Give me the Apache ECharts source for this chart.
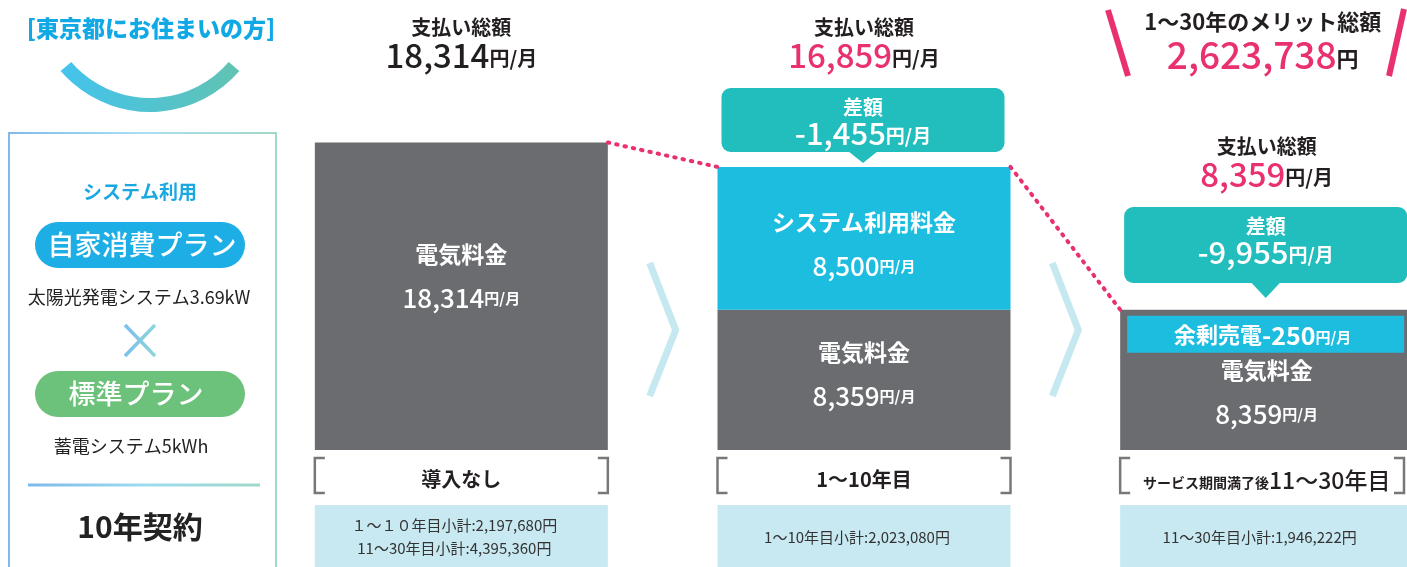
<!DOCTYPE html>
<html><head><meta charset="utf-8">
<script src="https://cdn.jsdelivr.net/npm/echarts@6/dist/echarts.min.js"></script>
<style>html,body{margin:0;padding:0;background:#fff}#c{width:1407px;height:567px}</style>
</head><body><div id="c"></div>
<script>
// ---------- data ----------
const categories = ['導入なし', '1〜10年目', 'サービス期間満了後11〜30年目'];
const electricityFee = [18314, 8359, 8359];
const systemFee = [0, 8500, 0];
const totalPayment = [18314, 16859, 8359];
const monthlyDiff = [null, -1455, -9955];
const surplusSale = [null, null, -250];
const subtotalLines = [
  ['１～１０年目小計:2,197,680円', '11〜30年目小計:4,395,360円'],
  ['1〜10年目小計:2,023,080円'],
  ['11〜30年目小計:1,946,222円']
];
const meritLabel = '1〜30年のメリット総額';
const meritTotal = 2623738;
const panelTitle = '[東京都にお住まいの方]';
const panelLines = ['システム利用', '自家消費プラン', '太陽光発電システム3.69kW', '標準プラン', '蓄電システム5kWh', '10年契約'];

// ---------- style ----------
const FONT = '"Noto Sans CJK JP","Noto Sans",sans-serif';
const GRAY = '#6b6c70', CYAN = '#1dbde0', TEAL = '#22bdbd', PINK = '#e8316e', DARK = '#231f20';
const BAR_W = 293;
const fmt = v => Math.abs(v).toLocaleString('en-US');
const sgn = v => (v < 0 ? '-' : '');

const chart = echarts.init(document.getElementById('c'));

const elecOffsets = [-20, -6, 12];
const sysOffsets = [0, 6, 0];
const richBar = {
  n: { fontSize: 23, fontWeight: 'bold', color: '#fff', lineHeight: 44, fontFamily: FONT },
  v: { fontSize: 26, fontWeight: 500, color: '#fff', lineHeight: 44, fontFamily: FONT },
  u: { fontSize: 15, fontWeight: 'bold', color: '#fff', lineHeight: 44, fontFamily: FONT }
};

chart.setOption({
  animation: false,
  grid: { left: 260, right: -61, top: 47, bottom: 117, containLabel: false, outerBoundsMode: 'none' },
  xAxis: {
    type: 'category', data: categories,
    axisLine: { show: false }, axisTick: { show: false },
    axisLabel: {
      interval: 0, margin: 19, color: DARK, fontFamily: FONT,
      formatter: v => {
        const m = v.match(/^(サービス期間満了後)(.*)$/);
        return m ? '{s|' + m[1] + '}{b|' + m[2] + '}' : '{m|' + v + '}';
      },
      rich: {
        m: { fontSize: 20, fontWeight: 'bold', color: DARK, fontFamily: FONT },
        s: { fontSize: 14, fontWeight: 'bold', color: DARK, fontFamily: FONT, padding: [4, 0, 0, 0] },
        b: { fontSize: 23, fontWeight: 500, color: DARK, fontFamily: FONT }
      }
    }
  },
  yAxis: { type: 'value', min: 0, max: 24000, show: false, splitLine: { show: false } },
  series: [
    {
      name: '電気料金', type: 'bar', stack: 'pay', barWidth: BAR_W,
      itemStyle: { color: GRAY },
      data: electricityFee.map((v, i) => ({ value: v, label: { offset: [0, elecOffsets[i]] } })),
      label: {
        show: true, position: 'inside',
        formatter: p => '{n|電気料金}\n{v|' + fmt(p.value) + '}{u|円/月}', rich: richBar
      }
    },
    {
      name: 'システム利用料金', type: 'bar', stack: 'pay', barWidth: BAR_W,
      itemStyle: { color: CYAN },
      data: systemFee.map((v, i) => ({ value: v, label: { offset: [0, sysOffsets[i]] } })),
      label: {
        show: true, position: 'inside',
        formatter: p => p.value > 0 ? '{n|システム利用料金}\n{v|' + fmt(p.value) + '}{u|円/月}' : '', rich: richBar
      }
    },
    {
      name: 'connector', type: 'custom', z: 5,
      data: totalPayment.map((v, i) => [i, v]),
      renderItem: (params, api) => {
        const i = params.dataIndex;
        if (i >= totalPayment.length - 1) return null;
        const p0 = api.coord([i, totalPayment[i]]);
        const p1 = api.coord([i + 1, totalPayment[i + 1]]);
        return {
          type: 'line',
          shape: { x1: p0[0] + BAR_W / 2, y1: p0[1], x2: p1[0] - BAR_W / 2, y2: p1[1] },
          style: { stroke: PINK, lineWidth: 4, lineDash: [1.5, 7], lineCap: 'round', fill: null }
        };
      }
    },
    {
      name: '余剰売電', type: 'custom', z: 5,
      data: surplusSale.map((v, i) => [i, electricityFee[i], v]).filter(d => d[2] != null),
      renderItem: (params, api) => {
        const i = api.value(0);
        const p = api.coord([i, api.value(1)]);
        const left = p[0] - BAR_W / 2 + 7, top = p[1] + 6, h = 37;
        const v = api.value(2);
        return {
          type: 'group',
          children: [
            { type: 'rect', shape: { x: left, y: top, width: BAR_W - 16, height: h }, style: { fill: CYAN } },
            { type: 'text', style: {
              x: p[0] - 4, y: top + h / 2 + 1, align: 'center', verticalAlign: 'middle',
              text: '{a|余剰売電}{b|' + sgn(v) + fmt(v) + '}{u|円/月}',
              rich: {
                a: { fontSize: 22, fontWeight: 'bold', fill: '#fff', fontFamily: FONT },
                b: { fontSize: 25, fontWeight: 'bold', fill: '#fff', fontFamily: FONT },
                u: { fontSize: 15, fontWeight: 'bold', fill: '#fff', fontFamily: FONT, padding: [5, 0, 0, 0] }
              }
            } }
          ]
        };
      }
    }
  ]
});

// ---------- annotations ----------
function txt(x, y, text, o) {
  return { type: 'text', z: 100, style: Object.assign({
    x: x, y: y, text: text, align: 'center', verticalAlign: 'middle',
    textAlign: 'center', textVerticalAlign: 'middle', fontFamily: FONT, fill: DARK
  }, o || {}) };
}
const px = (i, v) => chart.convertToPixel({ xAxisIndex: 0, yAxisIndex: 0 }, [i, v]);

const g = [];
// left panel
const grad = (c) => ({ type: 'linear', x: 0, y: 0, x2: 1, y2: 0, colorStops: c });
g.push(txt(151, 28, panelTitle, { fontSize: 23, fontWeight: 900, fill: '#10a9e6' }));
g.push({ type: 'arc', z: 100, shape: { cx: 150, cy: -6, r: 111, startAngle: 0.712, endAngle: 2.43, clockwise: true },
  style: { fill: null, lineWidth: 14, stroke: grad([{ offset: 0, color: '#43c3ee' }, { offset: 1, color: '#61c3b2' }]) } });
g.push({ type: 'rect', z: 100, shape: { x: 9, y: 133, width: 267, height: 460 },
  style: { fill: null, lineWidth: 2, stroke: grad([{ offset: 0, color: '#80b9e8' }, { offset: 0.5, color: '#a9dff2' }, { offset: 1, color: '#a0d9c8' }]) } });
g.push(txt(140, 192, panelLines[0], { fontSize: 19, fontWeight: 'bold', fill: '#1aa8e0' }));
g.push({ type: 'rect', z: 100, shape: { x: 35, y: 222, width: 210, height: 46, r: 23 }, style: { fill: '#1eaee6' } });
g.push(txt(142, 245, panelLines[1], { fontSize: 27, fontWeight: 500, fill: '#fff' }));
g.push(txt(139, 297, panelLines[2], { fontSize: 18, fill: '#222' }));
const xg = grad([{ offset: 0, color: '#79bdee' }, { offset: 1, color: '#8fd8d8' }]);
g.push({ type: 'line', z: 100, shape: { x1: 125, y1: 325, x2: 155, y2: 356 }, style: { stroke: xg, lineWidth: 3.5 } });
g.push({ type: 'line', z: 100, shape: { x1: 155, y1: 325, x2: 125, y2: 356 }, style: { stroke: xg, lineWidth: 3.5 } });
g.push({ type: 'rect', z: 100, shape: { x: 35, y: 371, width: 210, height: 46, r: 23 }, style: { fill: '#6cc27a' } });
g.push(txt(136, 394, panelLines[3], { fontSize: 27, fontWeight: 500, fill: '#fff' }));
g.push(txt(131, 446, panelLines[4], { fontSize: 18, fill: '#222' }));
g.push({ type: 'line', z: 100, shape: { x1: 28, y1: 485, x2: 260, y2: 485 },
  style: { lineWidth: 3, stroke: grad([{ offset: 0, color: '#7cb8e8' }, { offset: 0.5, color: '#9ddcf0' }, { offset: 1, color: '#9fd8c8' }]) } });
g.push(txt(140, 527, panelLines[5], { fontSize: 30, fontWeight: 'bold', fill: '#222' }));

// per category
const calloutTop = [null, 88, 207], calloutH = [null, 64, 76];
const headY = [27, 27, 146];
for (let i = 0; i < categories.length; i++) {
  const c = px(i, 0);
  const cx = c[0];
  const left = cx - BAR_W / 2, right = cx + BAR_W / 2;
  const topY = px(i, totalPayment[i])[1];
  // headline
  const hy = headY[i];
  g.push(txt(cx, hy, '支払い総額', { fontSize: 20, fontWeight: 'bold' }));
  g.push(txt(cx, hy + 28, '{v|' + fmt(totalPayment[i]) + '}{u|円/月}', {
    rich: {
      v: { fontSize: 33, fontWeight: 500, fill: i === 0 ? DARK : PINK, fontFamily: FONT },
      u: { fontSize: 20, fontWeight: 'bold', fill: DARK, fontFamily: FONT, padding: [6, 0, 0, 0] }
    }
  }));
  // callout
  if (monthlyDiff[i] != null) {
    const bt = calloutTop[i], bh = calloutH[i];
    const bl = left + 4, br = Math.min(right - 6, 1420);
    const tipY = Math.min(bt + bh + 15, topY - 4);
    const tipX = (bl + br) / 2;
    g.push({ type: 'rect', z: 90, shape: { x: bl, y: bt, width: br - bl, height: bh, r: 9 }, style: { fill: TEAL } });
    g.push({ type: 'polygon', z: 90, shape: { points: [[tipX - 15, bt + bh - 1], [tipX + 15, bt + bh - 1], [tipX, tipY]] }, style: { fill: TEAL } });
    g.push(txt(tipX, bt + 19, '差額', { fontSize: 20, fontWeight: 'bold', fill: '#fff' }));
    g.push(txt(tipX, bt + 45, '{v|' + sgn(monthlyDiff[i]) + fmt(monthlyDiff[i]) + '}{u|円/月}', {
      rich: {
        v: { fontSize: 31, fontWeight: 500, fill: '#fff', fontFamily: FONT },
        u: { fontSize: 19, fontWeight: 'bold', fill: '#fff', fontFamily: FONT, padding: [6, 0, 0, 0] }
      }
    }));
  }
  // brackets
  const bl = left, br = Math.min(right, 1404);
  const bStroke = { stroke: '#77787b', lineWidth: 2.5, fill: null };
  g.push({ type: 'polyline', z: 100, shape: { points: [[bl + 10, 458], [bl, 458], [bl, 493], [bl + 10, 493]] }, style: bStroke });
  g.push({ type: 'polyline', z: 100, shape: { points: [[br - 10, 458], [br, 458], [br, 493], [br - 10, 493]] }, style: bStroke });
  // subtotal box
  g.push({ type: 'rect', z: 50, shape: { x: left, y: 505, width: BAR_W, height: 70 }, style: { fill: '#c8e9f1' } });
  const lines = subtotalLines[i];
  lines.forEach((s, k) => {
    const y = lines.length === 1 ? 537 : 525 + k * 23;
    g.push(txt(cx - 7, y, s, { fontSize: 15, fill: '#333' }));
  });
  // chevron between bars
  if (i < categories.length - 1) {
    const nx = px(i + 1, 0)[0] - BAR_W / 2;
    const mid = (right + nx) / 2;
    g.push({ type: 'polyline', z: 100, shape: { points: [[mid - 13, 263], [mid + 13, 330], [mid - 13, 396]] },
      style: { stroke: '#c6e8f0', lineWidth: 7, fill: null, lineJoin: 'miter' } });
  }
}
// merit total (over last category)
const lastX = px(categories.length - 1, 0)[0] - 4;
g.push(txt(lastX, 22, meritLabel, { fontSize: 22, fontWeight: 'bold' }));
g.push(txt(lastX, 55, '{v|' + fmt(meritTotal) + '}{u|円}', {
  rich: {
    v: { fontSize: 37, fontWeight: 500, fill: PINK, fontFamily: FONT },
    u: { fontSize: 22, fontWeight: 'bold', fill: DARK, fontFamily: FONT, padding: [8, 0, 0, 0] }
  }
}));
g.push({ type: 'line', z: 100, shape: { x1: 1108, y1: 10, x2: 1128, y2: 76 }, style: { stroke: PINK, lineWidth: 6 } });
g.push({ type: 'line', z: 100, shape: { x1: 1404, y1: 9, x2: 1389, y2: 76 }, style: { stroke: PINK, lineWidth: 6 } });

chart.setOption({ graphic: { elements: g } });
</script></body></html>
